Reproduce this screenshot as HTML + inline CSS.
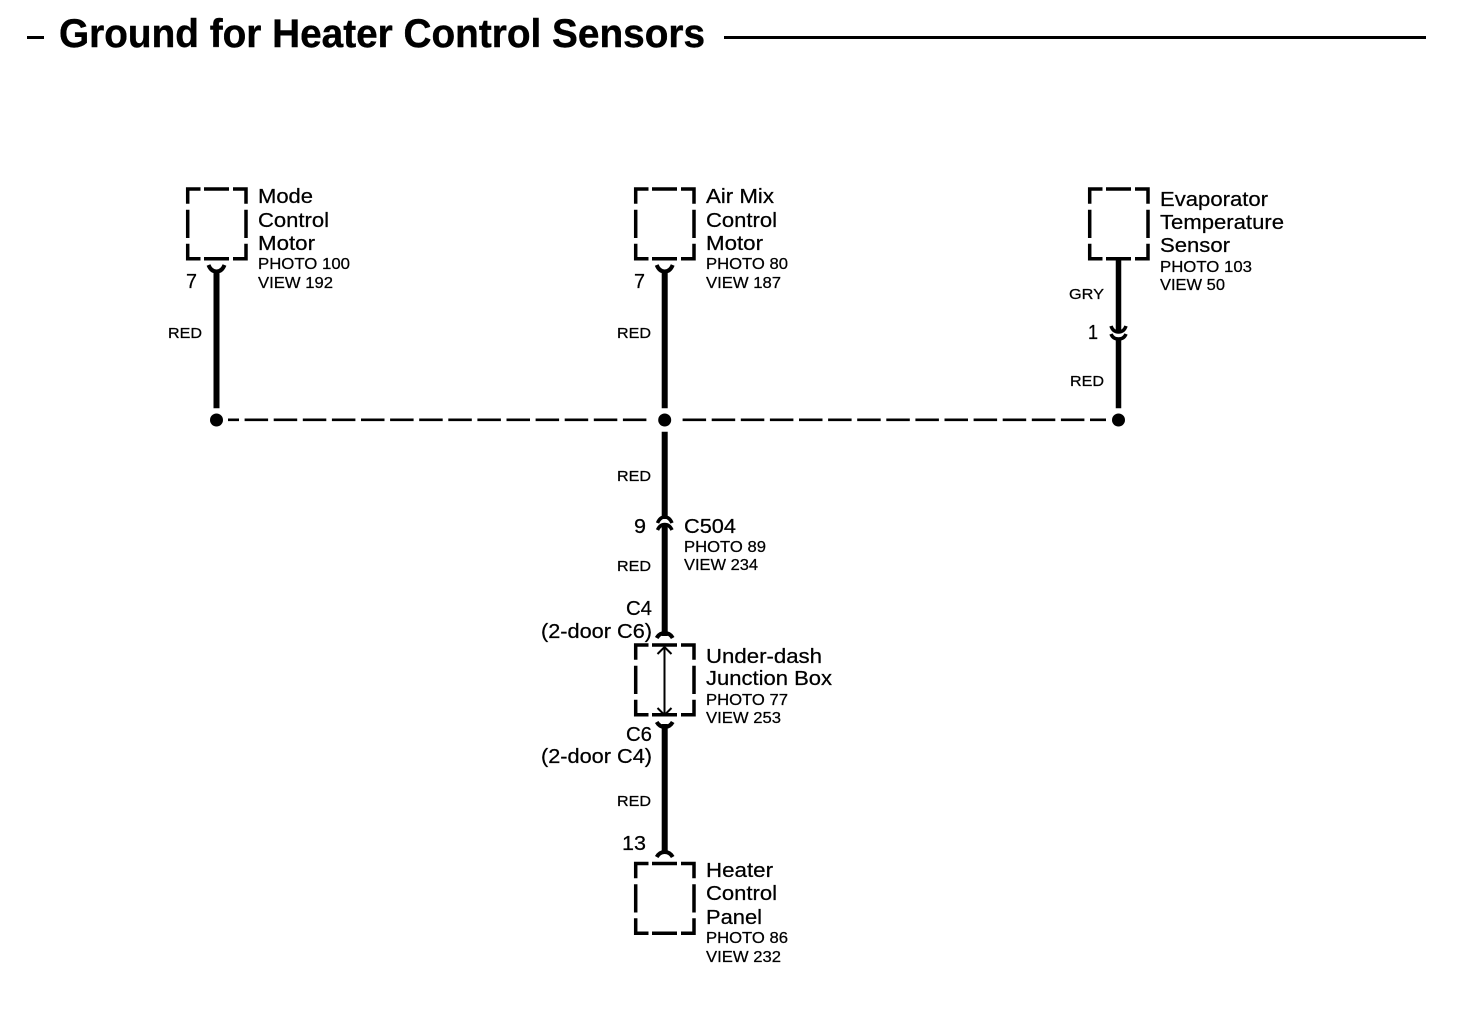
<!DOCTYPE html>
<html>
<head>
<meta charset="utf-8">
<style>
html,body{margin:0;padding:0;background:#fff}
svg{display:block}
text{font-family:"Liberation Sans",sans-serif;fill:#000;stroke:#000;stroke-width:.25}
.b{font-size:20.5px}
.s{font-size:16px}
.w{font-size:15px}
.t{font-size:39.5px;font-weight:bold;stroke-width:.4}
.box{fill:none;stroke:#000;stroke-width:3.5}
</style>
</head>
<body>
<svg width="1472" height="1018" viewBox="0 0 1472 1018" xmlns="http://www.w3.org/2000/svg">
<rect width="1472" height="1018" fill="#fff"/>
<!-- title -->
<rect x="27" y="36" width="17" height="3"/>
<text class="t" x="59" y="47" textLength="646" lengthAdjust="spacingAndGlyphs">Ground for Heater Control Sensors</text>
<rect x="724" y="36" width="702" height="3"/>

<defs>
<path id="bx" class="box" d="M187.7 203.700V189H200.500M204 189H229M233 189H246V203.700M246 209.700V238M246 243.700V258.700H233M229 258.700H204M200.500 258.700H187.700V243.700M187.700 238V209.700"/>
</defs>
<use href="#bx"/>
<use href="#bx" x="448"/>
<use href="#bx" x="902"/>
<use href="#bx" x="448" y="456"/>
<use href="#bx" x="448" y="674.500"/>

<!-- wires -->
<g fill="none" stroke="#000">
<path stroke-width="6" d="M216.500 270V408.300M664.700 270V408.300M664.700 431.700V519M664.700 526V636M664.700 724V853"/>
<path stroke-width="5.500" d="M1118.500 259V332M1118.500 338V408.300"/>
<path stroke-width="4" d="M208.500 265Q211 271.500 216.500 271.500Q222 271.500 224.500 265M656.700 265Q659.200 271.500 664.700 271.500Q670.200 271.500 672.700 265"/>
<path stroke-width="3.500" d="M1111 326Q1113 332 1118.500 332Q1124 332 1126 326M1111 334Q1113 339 1118.500 339Q1124 339 1126 334"/>
<path stroke-width="3.500" d="M657.500 523Q660 517 664.700 517Q669.500 517 672 523M657.500 530Q660 524.500 664.700 524.500Q669.500 524.500 672 530"/>
<path stroke-width="4" d="M656.700 638Q659.500 633 664.700 633Q670 633 672.700 638"/>
<path stroke-width="4" d="M656.700 722Q659.500 727 664.700 727Q670 727 672.700 722"/>
<path stroke-width="4" d="M656.700 857Q659.500 852 664.700 852Q670 852 672.700 857"/>
<path stroke-width="2" d="M664.500 647V715M657.500 654L664.500 647L671.500 654M657.500 708L664.500 715L671.500 708"/>
<line x1="228" y1="419.800" x2="646.800" y2="419.800" stroke-width="2.600" stroke-dasharray="23.500 5.600" stroke-dashoffset="12.500"/>
<line x1="1106" y1="419.800" x2="682" y2="419.800" stroke-width="2.600" stroke-dasharray="23.500 5.600" stroke-dashoffset="7.500"/>
</g>
<circle cx="216.500" cy="420" r="6.500"/>
<circle cx="664.700" cy="420" r="6.500"/>
<circle cx="1118.500" cy="420" r="6.500"/>

<!-- Mode Control Motor -->
<text class="b" x="258" y="203" textLength="55" lengthAdjust="spacingAndGlyphs">Mode</text>
<text class="b" x="258" y="227" textLength="71" lengthAdjust="spacingAndGlyphs">Control</text>
<text class="b" x="258" y="250" textLength="57" lengthAdjust="spacingAndGlyphs">Motor</text>
<text class="s" x="258" y="269" textLength="92" lengthAdjust="spacingAndGlyphs">PHOTO 100</text>
<text class="s" x="258" y="288" textLength="75" lengthAdjust="spacingAndGlyphs">VIEW 192</text>
<text class="b" x="186" y="288" textLength="11" lengthAdjust="spacingAndGlyphs">7</text>
<text class="w" x="168" y="338" textLength="34" lengthAdjust="spacingAndGlyphs">RED</text>

<!-- Air Mix -->
<text class="b" x="706" y="203" textLength="68" lengthAdjust="spacingAndGlyphs">Air Mix</text>
<text class="b" x="706" y="227" textLength="71" lengthAdjust="spacingAndGlyphs">Control</text>
<text class="b" x="706" y="250" textLength="57" lengthAdjust="spacingAndGlyphs">Motor</text>
<text class="s" x="706" y="269" textLength="82" lengthAdjust="spacingAndGlyphs">PHOTO 80</text>
<text class="s" x="706" y="288" textLength="75" lengthAdjust="spacingAndGlyphs">VIEW 187</text>
<text class="b" x="634" y="288" textLength="11" lengthAdjust="spacingAndGlyphs">7</text>
<text class="w" x="617" y="338" textLength="34" lengthAdjust="spacingAndGlyphs">RED</text>

<!-- Evaporator -->
<text class="b" x="1160" y="206" textLength="108" lengthAdjust="spacingAndGlyphs">Evaporator</text>
<text class="b" x="1160" y="229" textLength="124" lengthAdjust="spacingAndGlyphs">Temperature</text>
<text class="b" x="1160" y="252" textLength="70" lengthAdjust="spacingAndGlyphs">Sensor</text>
<text class="s" x="1160" y="272" textLength="92" lengthAdjust="spacingAndGlyphs">PHOTO 103</text>
<text class="s" x="1160" y="290" textLength="65" lengthAdjust="spacingAndGlyphs">VIEW 50</text>
<text class="w" x="1069" y="299" textLength="35" lengthAdjust="spacingAndGlyphs">GRY</text>
<text class="b" x="1088" y="339" textLength="10" lengthAdjust="spacingAndGlyphs">1</text>
<text class="w" x="1070" y="386" textLength="34" lengthAdjust="spacingAndGlyphs">RED</text>

<!-- Middle -->
<text class="w" x="617" y="481" textLength="34" lengthAdjust="spacingAndGlyphs">RED</text>
<text class="b" x="634" y="533" textLength="12" lengthAdjust="spacingAndGlyphs">9</text>
<text class="b" x="684" y="533" textLength="52" lengthAdjust="spacingAndGlyphs">C504</text>
<text class="s" x="684" y="552" textLength="82" lengthAdjust="spacingAndGlyphs">PHOTO 89</text>
<text class="s" x="684" y="570" textLength="74" lengthAdjust="spacingAndGlyphs">VIEW 234</text>
<text class="w" x="617" y="571" textLength="34" lengthAdjust="spacingAndGlyphs">RED</text>
<text class="b" x="626" y="615" textLength="26" lengthAdjust="spacingAndGlyphs">C4</text>
<text class="b" x="541" y="638" textLength="111" lengthAdjust="spacingAndGlyphs">(2-door C6)</text>
<text class="b" x="706" y="663" textLength="116" lengthAdjust="spacingAndGlyphs">Under-dash</text>
<text class="b" x="706" y="685" textLength="126" lengthAdjust="spacingAndGlyphs">Junction Box</text>
<text class="s" x="706" y="705" textLength="82" lengthAdjust="spacingAndGlyphs">PHOTO 77</text>
<text class="s" x="706" y="723" textLength="75" lengthAdjust="spacingAndGlyphs">VIEW 253</text>
<text class="b" x="626" y="741" textLength="26" lengthAdjust="spacingAndGlyphs">C6</text>
<text class="b" x="541" y="763" textLength="111" lengthAdjust="spacingAndGlyphs">(2-door C4)</text>
<text class="w" x="617" y="806" textLength="34" lengthAdjust="spacingAndGlyphs">RED</text>
<text class="b" x="622" y="850" textLength="24" lengthAdjust="spacingAndGlyphs">13</text>

<!-- Heater -->
<text class="b" x="706" y="877" textLength="67" lengthAdjust="spacingAndGlyphs">Heater</text>
<text class="b" x="706" y="900" textLength="71" lengthAdjust="spacingAndGlyphs">Control</text>
<text class="b" x="706" y="924" textLength="56" lengthAdjust="spacingAndGlyphs">Panel</text>
<text class="s" x="706" y="943" textLength="82" lengthAdjust="spacingAndGlyphs">PHOTO 86</text>
<text class="s" x="706" y="962" textLength="75" lengthAdjust="spacingAndGlyphs">VIEW 232</text>
</svg>
</body>
</html>
